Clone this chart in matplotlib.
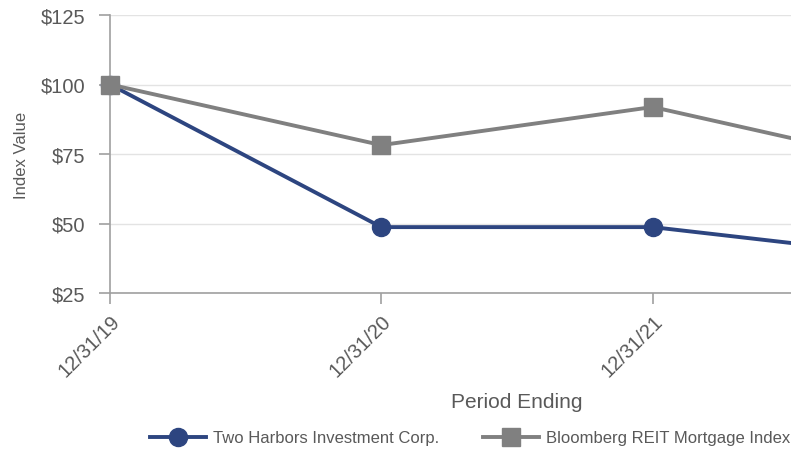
import matplotlib.pyplot as plt

plt.rcParams["font.family"] = ["Liberation Sans", "DejaVu Sans"]

periods = ["12/31/19", "12/31/20", "12/31/21", "12/31/22"]
two_harbors = [100, 48.7, 48.7, 37.5]
bloomberg = [100, 78.2, 91.9, 70.0]
yticks = [25, 50, 75, 100, 125]

navy = "#2d4580"
gray = "#808080"
text_c = "#595959"

fig = plt.figure(figsize=(7.91, 4.52), dpi=100)
# axes runs past the right edge, last period is cut off as in the source
ax = fig.add_axes([110 / 791, 1 - 294 / 452, 814 / 791, 278 / 452])

x = list(range(len(periods)))
ax.plot(x, two_harbors, color=navy, lw=2.8, marker="o", ms=13,
        label="Two Harbors Investment Corp.", clip_on=False, zorder=2)
ax.plot(x, bloomberg, color=gray, lw=2.8, marker="s", ms=13,
        label="Bloomberg REIT Mortgage Index", clip_on=False, zorder=3)

ax.set_xlim(0, 3)
ax.set_ylim(25, 125)
ax.set_yticks(yticks)
ax.set_yticklabels(["$%d" % v for v in yticks], fontsize=14.5, color=text_c)
# only the periods that fall inside the picture get a label
ax.set_xticks(x[:3])
ax.set_xticklabels(periods[:3], rotation=45, ha="right", rotation_mode="anchor",
                   fontsize=14.5, color=text_c)
ax.grid(axis="y", color="#e3e3e3", lw=1)
ax.set_axisbelow(True)
for s in ["top", "right"]:
    ax.spines[s].set_visible(False)
for s in ["left", "bottom"]:
    ax.spines[s].set_color("#a0a0a0")
    ax.spines[s].set_linewidth(1.2)
ax.tick_params(axis="both", direction="out", length=8, width=1.2,
               color="#a0a0a0", pad=5)
ax.tick_params(axis="y", pad=10)

ax.set_ylabel("Index Value", fontsize=12, color=text_c, labelpad=8)
ax.set_xlabel("Period Ending", fontsize=15, color=text_c, labelpad=9)

fig.legend(loc="center", bbox_to_anchor=(470 / 791, 1 - 439 / 452), ncol=2,
           frameon=False, fontsize=12, labelcolor=text_c,
           handlelength=3.4, columnspacing=2.6, handletextpad=0.4)

fig.savefig("out.png", dpi=100)
